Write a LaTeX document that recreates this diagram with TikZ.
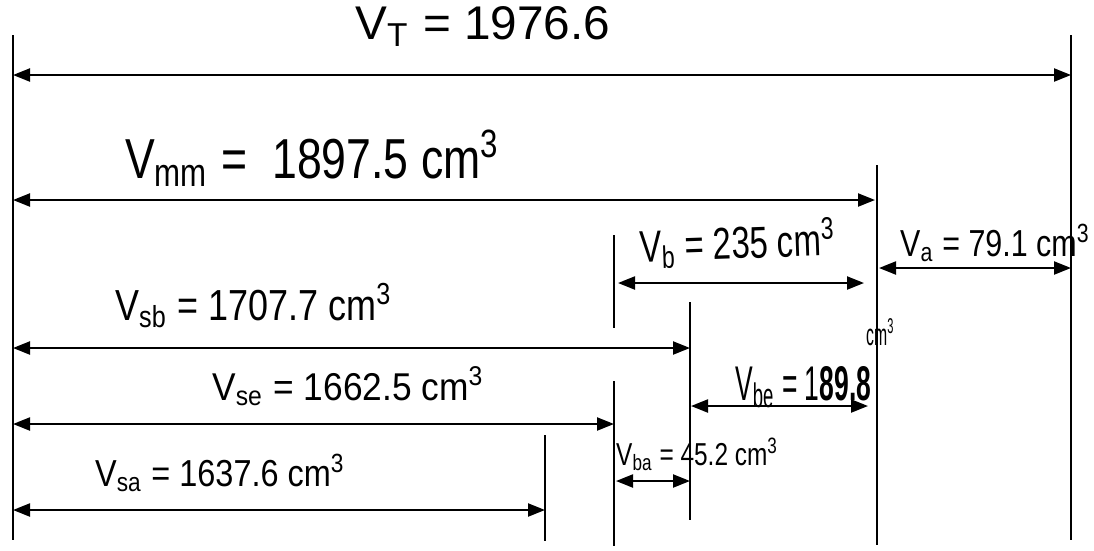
\documentclass[tikz,border=0pt]{standalone}
\usepackage{fontspec}
\setmainfont{Liberation Sans}
\usetikzlibrary{arrows.meta}
\newcommand{\sub}[1]{\textsubscript{#1}}
\newcommand{\cmc}{cm\textsuperscript{3}}
\newcommand{\fitwh}[3]{\resizebox{#1pt}{#2pt}{#3}}
\begin{document}
\begin{tikzpicture}[x=1pt,y=-1pt,
  tick/.style={line width=1.6pt},
  dim/.style={line width=2.2pt,{Triangle[length=17pt,width=13pt]}-{Triangle[length=17pt,width=13pt]}},
  lab/.style={inner sep=0pt,anchor=base west}]
\useasboundingbox (0,0) rectangle (1094,550);
% vertical extension lines
\coordinate (L0t) at (13,35);   \coordinate (L0b) at (13,540);
\coordinate (Rt) at (1071,35);  \coordinate (Rb) at (1071,540);
\coordinate (Mt) at (877,165);  \coordinate (Mb) at (877,545);
\coordinate (Bt) at (614,235);  \coordinate (Bm) at (614,328);
\coordinate (Bn) at (614,381);  \coordinate (Bb) at (614,546);
\coordinate (St) at (690,302);  \coordinate (Sb) at (690,520);
\coordinate (At) at (545,435);  \coordinate (Ab) at (545,541);
\draw[tick] (L0t) -- (L0b);
\draw[tick] (Rt) -- (Rb);
\draw[tick] (Mt) -- (Mb);
\draw[tick] (Bt) -- (Bm);
\draw[tick] (Bn) -- (Bb);
\draw[tick] (St) -- (Sb);
\draw[tick] (At) -- (Ab);
% arrow end points
\coordinate (T1) at (13,75);   \coordinate (T2) at (1071,75);
\coordinate (MM1) at (13,200); \coordinate (MM2) at (875,200);
\coordinate (B1) at (618,283); \coordinate (B2) at (864,283);
\coordinate (A1) at (879,268); \coordinate (A2) at (1071,268);
\coordinate (SB1) at (13,348); \coordinate (SB2) at (690,348);
\coordinate (SE1) at (13,424); \coordinate (SE2) at (614,424);
\coordinate (BE1) at (691,406); \coordinate (BE2) at (868,406);
\coordinate (BA1) at (616,481); \coordinate (BA2) at (690,481);
\coordinate (SA1) at (13,510); \coordinate (SA2) at (545,510);
\draw[dim] (T1) -- (T2);
\draw[dim] (MM1) -- (MM2);
\draw[dim] (B1) -- (B2);
\draw[dim] (A1) -- (A2);
\draw[dim] (SB1) -- (SB2);
\draw[dim] (SE1) -- (SE2);
\draw[dim] (BE1) -- (BE2);
\draw[dim] (BA1) -- (BA2);
\draw[dim] (SA1) -- (SA2);
% labels
\node[lab] (tT) at (355,39) {\fitwh{255}{33}{V\sub{T} = 1976.6}};
\node[lab] (tMM) at (125,178) {\fitwh{375}{48}{V\sub{mm} =\ \ 1897.5 \cmc}};
\node[lab,rotate=2] (tB) at (640,262) {\fitwh{196}{38}{V\sub{b} = 235 \cmc}};
\node[lab] (tA) at (900,256) {\fitwh{190}{32}{V\sub{a} = 79.1 \cmc}};
\node[lab] (tSB) at (115,320) {\fitwh{277}{37}{V\sub{sb} = 1707.7 \cmc}};
\node[lab] (tSE) at (212,400) {\fitwh{272}{33}{V\sub{se} = 1662.5 \cmc}};
\node[lab] (tBE) at (735,400) {\fitwh{136}{34}{V\sub{be} = 1\textbf{89.8}}};
\node[lab] (tBEu) at (866,345) {\fitwh{28}{26}{\cmc}};
\node[lab] (tBA) at (616,465) {\fitwh{162}{27}{V\sub{ba} = 45.2 \cmc}};
\node[lab] (tSA) at (95,486) {\fitwh{250}{32}{V\sub{sa} = 1637.6 \cmc}};
\end{tikzpicture}
\end{document}
